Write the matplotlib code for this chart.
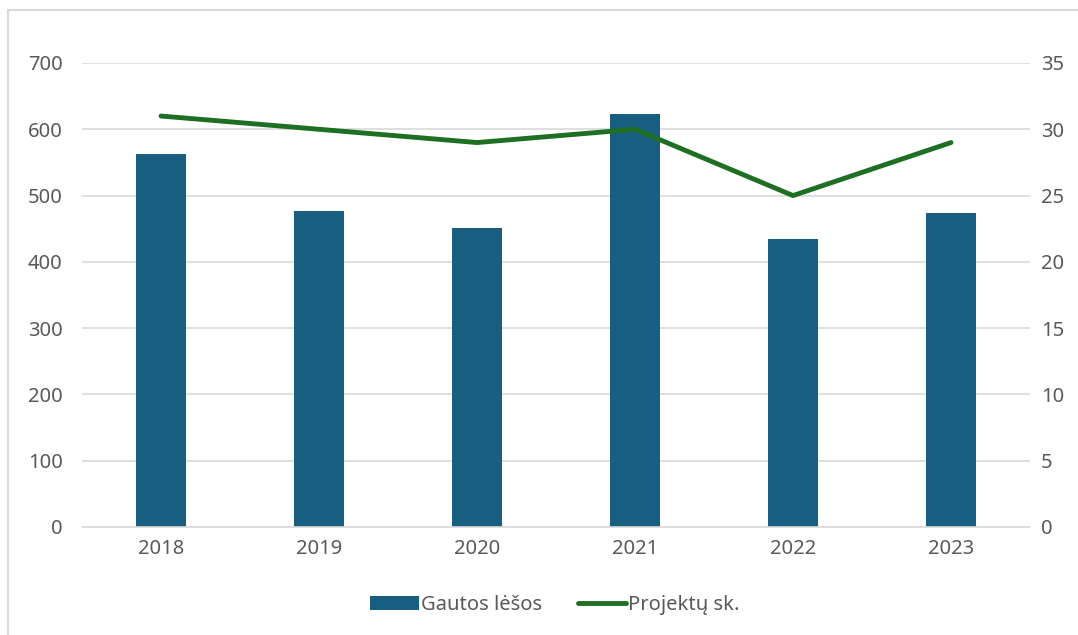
import matplotlib
matplotlib.use("Agg")
import matplotlib.pyplot as plt
from matplotlib.patches import Rectangle
import numpy as np

# data
years = ["2018", "2019", "2020", "2021", "2022", "2023"]
funds = [562, 477, 451, 623, 434, 474]       # Gautos lėšos
projects = [31, 30, 29, 30, 25, 29]          # Projektų sk.

bar_color = "#175E80"
line_color = "#1E6E23"
text_color = "#595959"
grid_color = "#D9D9D9"

plt.rcParams["font.family"] = ["Noto Sans", "DejaVu Sans"]

fig = plt.figure(figsize=(10.78, 6.35), dpi=100)
ax = fig.add_axes([82 / 1078, 1 - 527 / 635, (1030 - 82) / 1078, (527 - 63) / 635])
ax2 = ax.twinx()

x = np.arange(len(years))
bars = ax.bar(x, funds, width=0.32, color=bar_color, label="Gautos lėšos", zorder=2)
line, = ax2.plot(x, projects, color=line_color, lw=3.5, solid_capstyle="round",
                 label="Projektų sk.", zorder=3)

ax.set_xlim(-0.5, len(years) - 0.5)
ax.set_ylim(0, 700)
ax2.set_ylim(0, 35)
ax.set_yticks(range(0, 701, 100))
ax2.set_yticks(range(0, 36, 5))
ax.set_xticks(x)
ax.set_xticklabels(years)

ax.yaxis.grid(True, color=grid_color, lw=1.2, zorder=0)
ax.set_axisbelow(True)
for a in (ax, ax2):
    for s in a.spines.values():
        s.set_visible(False)
    a.tick_params(length=0, colors=text_color, labelsize=14.5)
ax.spines["bottom"].set_visible(True)
ax.spines["bottom"].set_color(grid_color)
ax.spines["bottom"].set_linewidth(1.2)
ax.tick_params(axis="y", pad=14)
ax2.tick_params(axis="y", pad=8)
ax.tick_params(axis="x", pad=9)

ax2.set_zorder(ax.get_zorder() + 1)
ax2.patch.set_visible(False)

leg = fig.legend(handles=[bars, line], loc="center", bbox_to_anchor=(555 / 1078, 1 - 605 / 635),
                 ncol=2, frameon=False, fontsize=14.5, handlelength=2.4,
                 handletextpad=0.1, columnspacing=1.8)
for t in leg.get_texts():
    t.set_color(text_color)

# outer chart border
fig.patches.append(Rectangle((8 / 1078, -0.1), 1.2, 1 - 10 / 635 + 0.1,
                             transform=fig.transFigure, fill=False,
                             edgecolor=grid_color, lw=1.5))

fig.savefig("out.png", dpi=100)
